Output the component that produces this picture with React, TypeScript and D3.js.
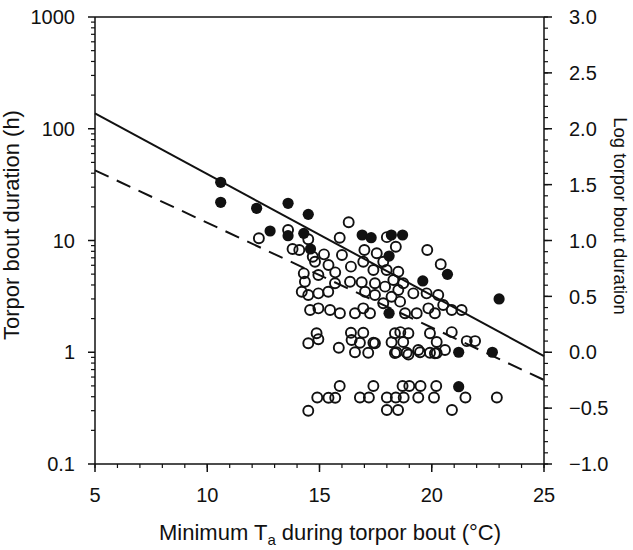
import React from "react";
import * as d3 from "d3";

// Axis ticks
const xMajor = [5, 10, 15, 20, 25];
const leftMajor = [0.1, 1, 10, 100, 1000];
const leftLabels = ["0.1", "1", "10", "100", "1000"];
const rightMajor = [-1.0, -0.5, 0, 0.5, 1.0, 1.5, 2.0, 2.5, 3.0];

// Filled circles: minimum Ta (°C) and log10 torpor bout duration
const filledTa = [10.6, 10.6, 12.2, 13.6, 14.5, 12.8, 13.6, 14.3, 14.6, 16.9, 17.3, 18.2, 18.7, 18.1, 19.6, 20.7, 23.0, 18.1, 21.2, 22.7, 21.2];
const filledLog = [1.521, 1.342, 1.288, 1.333, 1.234, 1.085, 1.043, 1.064, 0.924, 1.049, 1.025, 1.049, 1.049, 0.861, 0.638, 0.697, 0.477, 0.349, 0.0, 0.0, -0.308];

// Open circles
const openTa = [
  12.3, 13.6, 13.8, 14.5, 16.3, 15.9, 18.0, 19.8, 20.4, 18.4,
  14.1, 14.7, 15.2, 16.0, 17.0, 17.55, 15.4, 14.8, 16.4, 16.95,
  17.4, 14.3, 14.95, 15.7, 16.36, 16.88, 17.47, 14.35, 15.69, 14.21,
  14.5, 14.95, 15.39, 17.03, 17.47, 14.58, 14.95, 15.47, 15.91, 16.58,
  16.95, 17.25,
  17.84, 17.99, 18.51, 18.29, 18.73, 17.92, 18.51, 19.18, 18.21, 19.77,
  20.29, 20.51, 21.33, 19.85, 18.81, 17.84, 18.59, 19.33, 20.14, 20.89,
  14.87, 16.4, 16.95, 18.36, 18.6, 18.96, 19.92, 20.89, 14.95, 16.43,
  14.5, 17.47, 16.8, 17.4, 18.21, 18.73, 20.22, 21.56, 21.93, 15.86,
  16.58, 17.17, 18.36, 18.88, 19.48, 19.92, 20.22, 20.59, 18.43, 18.96,
  19.4, 20.14,
  15.9, 17.4, 18.7, 19.0, 19.5, 20.2, 14.9, 15.4, 15.7, 16.8,
  17.2, 18.0, 18.4, 18.75, 19.4, 20.1, 21.5, 22.9, 14.5, 18.0,
  18.5, 20.9,
];
const openLog = [
  1.02, 1.094, 0.924, 1.011, 1.163, 1.025, 1.03, 0.915, 0.787, 0.944,
  0.915, 0.855, 0.876, 0.87, 0.915, 0.886, 0.781, 0.81, 0.766, 0.81,
  0.736, 0.706, 0.691, 0.715, 0.631, 0.626, 0.617, 0.631, 0.617, 0.542,
  0.512, 0.527, 0.542, 0.542, 0.512, 0.378, 0.393, 0.378, 0.349, 0.349,
  0.393, 0.349,
  0.81, 0.736, 0.721, 0.647, 0.617, 0.587, 0.557, 0.527, 0.497, 0.527,
  0.512, 0.423, 0.378, 0.393, 0.349, 0.438, 0.453, 0.349, 0.349, 0.378,
  0.17, 0.175, 0.175, 0.17, 0.18, 0.17, 0.17, 0.18, 0.116, 0.11,
  0.08, 0.08, 0.085, 0.085, 0.09, 0.092, 0.092, 0.1, 0.1, 0.04,
  0.0, -0.005, -0.007, -0.005, 0.0, -0.005, -0.007, 0.02, 0.0, -0.02,
  0.02, -0.01,
  -0.302, -0.302, -0.302, -0.302, -0.302, -0.302, -0.405, -0.407, -0.407, -0.405,
  -0.405, -0.405, -0.405, -0.405, -0.405, -0.405, -0.405, -0.405, -0.523, -0.517,
  -0.517, -0.517,
];

// Regression lines: log10(duration) = intercept + slope * Ta
const solidFit = { intercept: 2.681, slope: -0.1086 };
const dashedFit = { intercept: 2.097, slope: -0.0938 };

const W = 633;
const H = 550;
const L = 95, R = 544, T = 17, B = 464;
const INK = "#111";
const FONT = "'Liberation Sans', Arial, sans-serif";

export default function App() {
  const x = d3.scaleLinear().domain([5, 25]).range([L, R]);
  const yL = d3.scaleLog().domain([0.1, 1000]).range([B, T]);
  const yR = d3.scaleLinear().domain([-1, 3]).range([B, T]);

  const xMinor = d3.range(5, 25.001, 1);
  const leftMinor: number[] = [];
  [0.1, 1, 10, 100].forEach((d) => {
    for (let k = 2; k <= 9; k++) leftMinor.push(d * k);
  });
  const rightMinor = d3.range(-1, 3.0001, 0.1);

  const fitLine = (f: { intercept: number; slope: number }) =>
    d3.line<number>()
      .x((t) => x(t))
      .y((t) => yR(f.intercept + f.slope * t))([5, 25]) as string;

  return (
    <svg width={W} height={H} style={{ position: "absolute", left: 0, top: 0, background: "#fff" }} fontFamily={FONT}>
      {/* frame */}
      <line x1={L} x2={R} y1={T} y2={T} stroke={INK} strokeWidth={1.5} />
      <line x1={L} x2={R} y1={B} y2={B} stroke={INK} strokeWidth={1.5} />
      <line x1={L} x2={L} y1={T} y2={B} stroke={INK} strokeWidth={1.5} />
      <line x1={R} x2={R} y1={T} y2={B} stroke={INK} strokeWidth={1.5} />

      {/* x ticks */}
      {xMinor.map((v) => (
        <line key={"xm" + v} x1={x(v)} x2={x(v)} y1={B} y2={B + 4} stroke={INK} strokeWidth={1.2} />
      ))}
      {xMajor.map((v) => (
        <g key={"xM" + v}>
          <line x1={x(v)} x2={x(v)} y1={B} y2={B + 8} stroke={INK} strokeWidth={1.5} />
          <text x={x(v)} y={502} textAnchor="middle" fontSize={20} fill={INK}>{v}</text>
        </g>
      ))}

      {/* left ticks */}
      {leftMinor.map((v, i) => (
        <line key={"lm" + i} x1={L - 4} x2={L} y1={yL(v)} y2={yL(v)} stroke={INK} strokeWidth={1.2} />
      ))}
      {leftMajor.map((v, i) => (
        <g key={"lM" + i}>
          <line x1={L - 7} x2={L} y1={yL(v)} y2={yL(v)} stroke={INK} strokeWidth={1.5} />
          <text x={75} y={yL(v)} dy="0.36em" textAnchor="end" fontSize={20} fill={INK}>{leftLabels[i]}</text>
        </g>
      ))}

      {/* right ticks */}
      {rightMinor.map((v, i) => (
        <line key={"rm" + i} x1={R} x2={R + 4} y1={yR(v)} y2={yR(v)} stroke={INK} strokeWidth={1.2} />
      ))}
      {rightMajor.map((v, i) => (
        <g key={"rM" + i}>
          <line x1={R} x2={R + 8} y1={yR(v)} y2={yR(v)} stroke={INK} strokeWidth={1.5} />
          <text x={569} y={yR(v)} dy="0.36em" textAnchor="start" fontSize={20} fill={INK}>{d3.format(".1f")(v)}</text>
        </g>
      ))}

      {/* regression lines */}
      <path d={fitLine(solidFit)} fill="none" stroke={INK} strokeWidth={2} />
      <path d={fitLine(dashedFit)} fill="none" stroke={INK} strokeWidth={2} strokeDasharray="15 9" />

      {/* open points */}
      {openTa.map((t, i) => (
        <circle key={"o" + i} cx={x(t)} cy={yR(openLog[i])} r={5} fill="none" stroke={INK} strokeWidth={1.9} />
      ))}
      {/* filled points */}
      {filledTa.map((t, i) => (
        <circle key={"f" + i} cx={x(t)} cy={yR(filledLog[i])} r={5.6} fill={INK} />
      ))}

      {/* axis titles */}
      <text x={330} y={540} textAnchor="middle" fontSize={22} fill={INK}>
        Minimum T<tspan fontSize={15} dy={5}>a</tspan><tspan dy={-5}> during torpor bout (°C)</tspan>
      </text>
      <text transform={`translate(19,225) rotate(-90)`} textAnchor="middle" fontSize={22} fill={INK}>
        Torpor bout duration (h)
      </text>
      <text transform={`translate(614,216) rotate(90)`} textAnchor="middle" fontSize={18.5} fill={INK}>
        Log torpor bout duration
      </text>
    </svg>
  );
}
